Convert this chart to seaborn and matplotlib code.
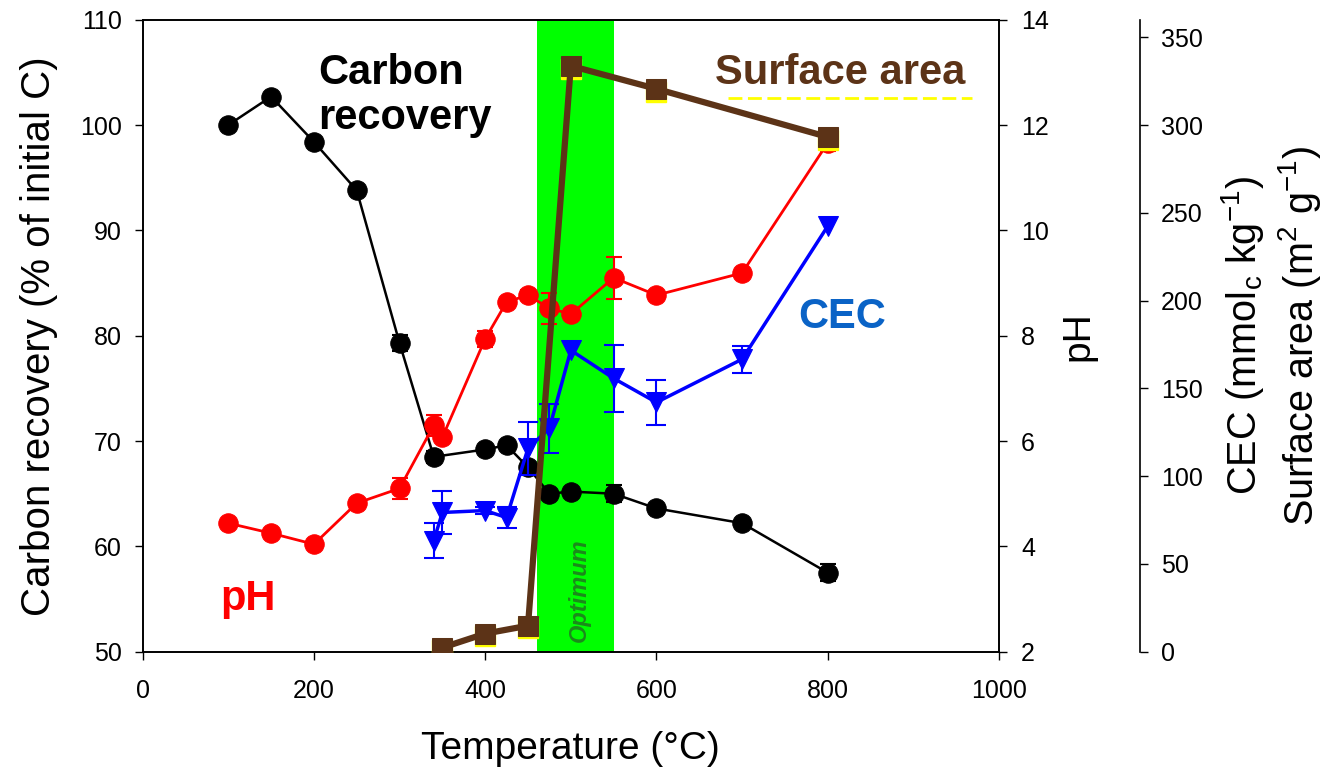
import numpy as np
import matplotlib
matplotlib.use("Agg")
import matplotlib.pyplot as plt
import matplotlib.transforms as mtransforms
import seaborn as sns

# data
temp_c = [100, 150, 200, 250, 300, 340, 400, 425, 450, 475, 500, 550, 600, 700, 800]
carbon = [100.0, 102.7, 98.4, 93.8, 79.3, 68.5, 69.2, 69.6, 67.5, 65.0, 65.2, 65.0, 63.6, 62.2, 57.5]
carbon_err = [0, 0, 0, 0, 0.8, 0.6, 0, 0, 0, 0, 0, 0.8, 0, 0, 0.8]

temp_ph = [100, 150, 200, 250, 300, 340, 350, 400, 425, 450, 475, 500, 550, 600, 700, 800]
ph = [4.44, 4.25, 4.04, 4.82, 5.10, 6.30, 6.07, 7.94, 8.64, 8.77, 8.52, 8.41, 9.10, 8.77, 9.19, 11.66]
ph_err = [0, 0, 0, 0, 0.2, 0.2, 0, 0.15, 0, 0.1, 0.3, 0, 0.4, 0, 0, 0.15]

temp_cec = [340, 350, 400, 425, 450, 475, 500, 550, 600, 700, 800]
cec = [63.3, 79.3, 80.4, 76.4, 115.8, 127.2, 171.7, 155.7, 142.0, 166.6, 242.4]
cec_err = [10, 12, 2, 6, 15, 14, 0, 19, 13, 7.6, 0]

temp_sa = [350, 400, 450, 500, 600, 800]
surface_area = [2.3, 10.3, 14.8, 333.7, 320.6, 293.2]

optimum_range = [460, 550]

sns.set_style("ticks")
plt.rcParams["font.family"] = ["Liberation Sans", "DejaVu Sans"]
plt.rcParams["mathtext.default"] = "regular"
for k in ["text.color", "axes.labelcolor", "xtick.color", "ytick.color", "axes.edgecolor"]:
    plt.rcParams[k] = "black"

fig = plt.figure(figsize=(13.27, 7.76), dpi=100)
ax = fig.add_axes([0.1075, 0.1602, 0.6453, 0.8144])
ax2 = ax.twinx()
ax3 = ax.twinx()

tick_kw = dict(labelsize=18, length=6, width=1, direction="out", color="black",
               labelcolor="black")

# optimum band
ax.axvspan(optimum_range[0], optimum_range[1], color="#00ff00", zorder=0, lw=0)
ax.text(510, 55.8, "Optimum", rotation=90, ha="center", va="center",
        fontsize=17, fontstyle="italic", fontweight="bold", color="#1c8a1c", zorder=1)


def with_err(a, x, y, err, color, cap):
    x = np.asarray(x); y = np.asarray(y); err = np.asarray(err)
    m = err > 0
    a.errorbar(x[m], y[m], yerr=err[m], fmt="none", ecolor=color, elinewidth=1.5,
               capsize=cap, capthick=1.5, zorder=2)


# carbon recovery
with_err(ax, temp_c, carbon, carbon_err, "black", 6)
sns.lineplot(x=temp_c, y=carbon, ax=ax, color="black", marker="o", markersize=14,
             markeredgecolor="black", linewidth=1.8, zorder=3)

# pH
with_err(ax2, temp_ph, ph, ph_err, "red", 6)
sns.lineplot(x=temp_ph, y=ph, ax=ax2, color="red", marker="o", markersize=14,
             markeredgecolor="red", linewidth=2.0, zorder=3)

# CEC
with_err(ax3, temp_cec, cec, cec_err, "blue", 7)
sns.lineplot(x=temp_cec, y=cec, ax=ax3, color="blue", marker="v", markersize=14,
             markeredgecolor="blue", linewidth=2.5, zorder=3)

# surface area (with a faint yellow shadow under the squares)
shadow = mtransforms.offset_copy(ax3.transData, fig=fig, x=0, y=-2, units="points")
ax3.plot(temp_sa, surface_area, ls="none", marker="s", markersize=14, color="#ffff00",
         transform=shadow, zorder=3)
sns.lineplot(x=temp_sa, y=surface_area, ax=ax3, color="#5c3317", marker="s", markersize=15,
             markeredgecolor="#5c3317", linewidth=4.5, zorder=4)

# axes limits and ticks
ax.set_xlim(0, 1000)
ax.set_ylim(50, 110)
ax.set_xticks(np.arange(0, 1001, 200))
ax.set_yticks(np.arange(50, 111, 10))
ax.tick_params(axis="both", **tick_kw)
ax.tick_params(axis="x", pad=14)
ax.tick_params(axis="y", pad=9)
ax.set_xlabel("Temperature (\u00b0C)", fontsize=28, labelpad=20)
ax.set_ylabel("Carbon recovery (% of initial C)", fontsize=29, labelpad=16)

ax2.set_ylim(2, 14)
ax2.set_yticks(np.arange(2, 15, 2))
ax2.tick_params(axis="y", pad=10, **tick_kw)
ax2.set_ylabel("pH", fontsize=28, labelpad=8)

ax3.set_ylim(0, 360)
ax3.set_yticks(np.arange(0, 351, 50))
ax3.tick_params(axis="y", pad=9, **tick_kw)
ax3.spines["right"].set_position(("outward", 101.5))
for s in ["top", "left", "bottom"]:
    ax3.spines[s].set_visible(False)
ax3.set_ylabel("CEC (mmol$_c$ kg$^{-1}$)\nSurface area (m$^2$ g$^{-1}$)",
               fontsize=28.5, labelpad=12, linespacing=1.25)

for a in (ax, ax2, ax3):
    for s in a.spines.values():
        s.set_color("black")
        s.set_linewidth(1.2)

# series labels
ax.text(204.7, 102.8, "Carbon\nrecovery", ha="left", va="center", fontsize=30,
        fontweight="bold", color="black", linespacing=1.15, zorder=5)
ax3.text(815, 329.5, "Surface area", ha="center", va="center", fontsize=30,
         fontweight="bold", color="#5c3317", zorder=6)
# yellow dashed trace beneath the surface area label
ax3.plot([684, 968], [315.5, 315.5], color="#ffff00", lw=2, ls=(0, (5, 2)), zorder=5)
ax.text(816.6, 81.8, "CEC", ha="center", va="center", fontsize=30,
        fontweight="bold", color="#0a63c6", zorder=5)
ax.text(123, 55.0, "pH", ha="center", va="center", fontsize=30,
        fontweight="bold", color="red", zorder=5)

fig.savefig("out.png", dpi=100)
